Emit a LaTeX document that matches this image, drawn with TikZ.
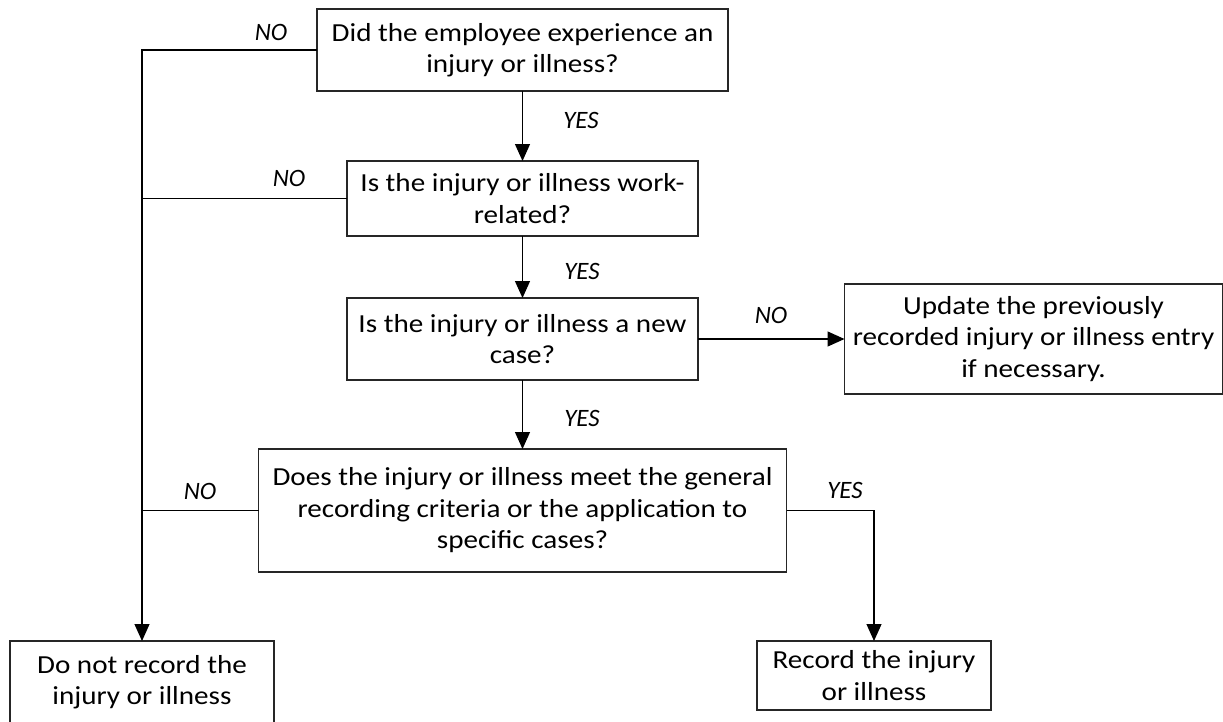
\documentclass[tikz,border=0pt]{standalone}
\usepackage{fontspec}
\setmainfont{Carlito}
\newfontfamily\boxfont{Carlito}[FakeStretch=1.12]
\usetikzlibrary{arrows.meta}
\usetikzlibrary{positioning}
\tikzset{every picture/.style={line width=1.2pt}}
\tikzset{
  qbox/.style={draw=black!85, rectangle, inner sep=0pt, outer sep=0pt, align=center,
    font=\boxfont\fontsize{26}{31.5}\selectfont},
  lbl/.style={font=\fontsize{25}{30}\selectfont\itshape, inner sep=0pt},
  flow/.style={-{Triangle[length=17pt,width=15pt]}}
}

\begin{document}
\begin{tikzpicture}[x=1pt,y=1pt,yscale=-1,xscale=1]
\useasboundingbox (0,0) rectangle (1223,721);

% Boxes
\node[qbox, minimum width=411, minimum height=82] (injury) at (522.5,50) {Did the employee experience an\\injury or illness?};
\node[qbox, minimum width=351, minimum height=75] (workrel) at (522.5,198.5) {Is the injury or illness work-\\related?};
\node[qbox, minimum width=351, minimum height=82] (newcase) at (522.5,339) {Is the injury or illness a new\\case?};
\node[qbox, minimum width=378, minimum height=110] (update) at (1033.5,339) {Update the previously\\recorded injury or illness entry\\if necessary.};
\node[qbox, minimum width=528, minimum height=123] (criteria) at (522.5,510.5) {Does the injury or illness meet the general\\recording criteria or the application to\\specific cases?};
\node[qbox, minimum width=264, minimum height=82] (norecord) at (142,682) {Do not record the\\injury or illness};
\node[qbox, minimum width=234, minimum height=69] (record) at (874,675.5) {Record the injury\\or illness};

% Connectors
\draw[flow] (injury.south) -- (workrel.north);
\draw[flow] (workrel.south) -- (newcase.north);
\draw[flow] (newcase.south) -- (criteria.north);
\draw[flow] (newcase.east) -- (update.west);
\draw[flow] (injury.west) -| (norecord.north);
\draw (workrel.west) -- (workrel.west -| norecord.north);
\draw (criteria.west) -- (criteria.west -| norecord.north);
\draw[flow] (criteria.east) -| (record.north);

% Labels
\node[lbl] (no1) at (271,32) {NO};
\node[lbl] (yes1) at (581,120) {YES};
\node[lbl] (no2) at (289,178) {NO};
\node[lbl] (yes2) at (582,271) {YES};
\node[lbl] (no3) at (771,315) {NO};
\node[lbl] (yes3) at (582,418) {YES};
\node[lbl] (no4) at (200,491) {NO};
\node[lbl] (yes4) at (845,490) {YES};

\end{tikzpicture}
\end{document}
